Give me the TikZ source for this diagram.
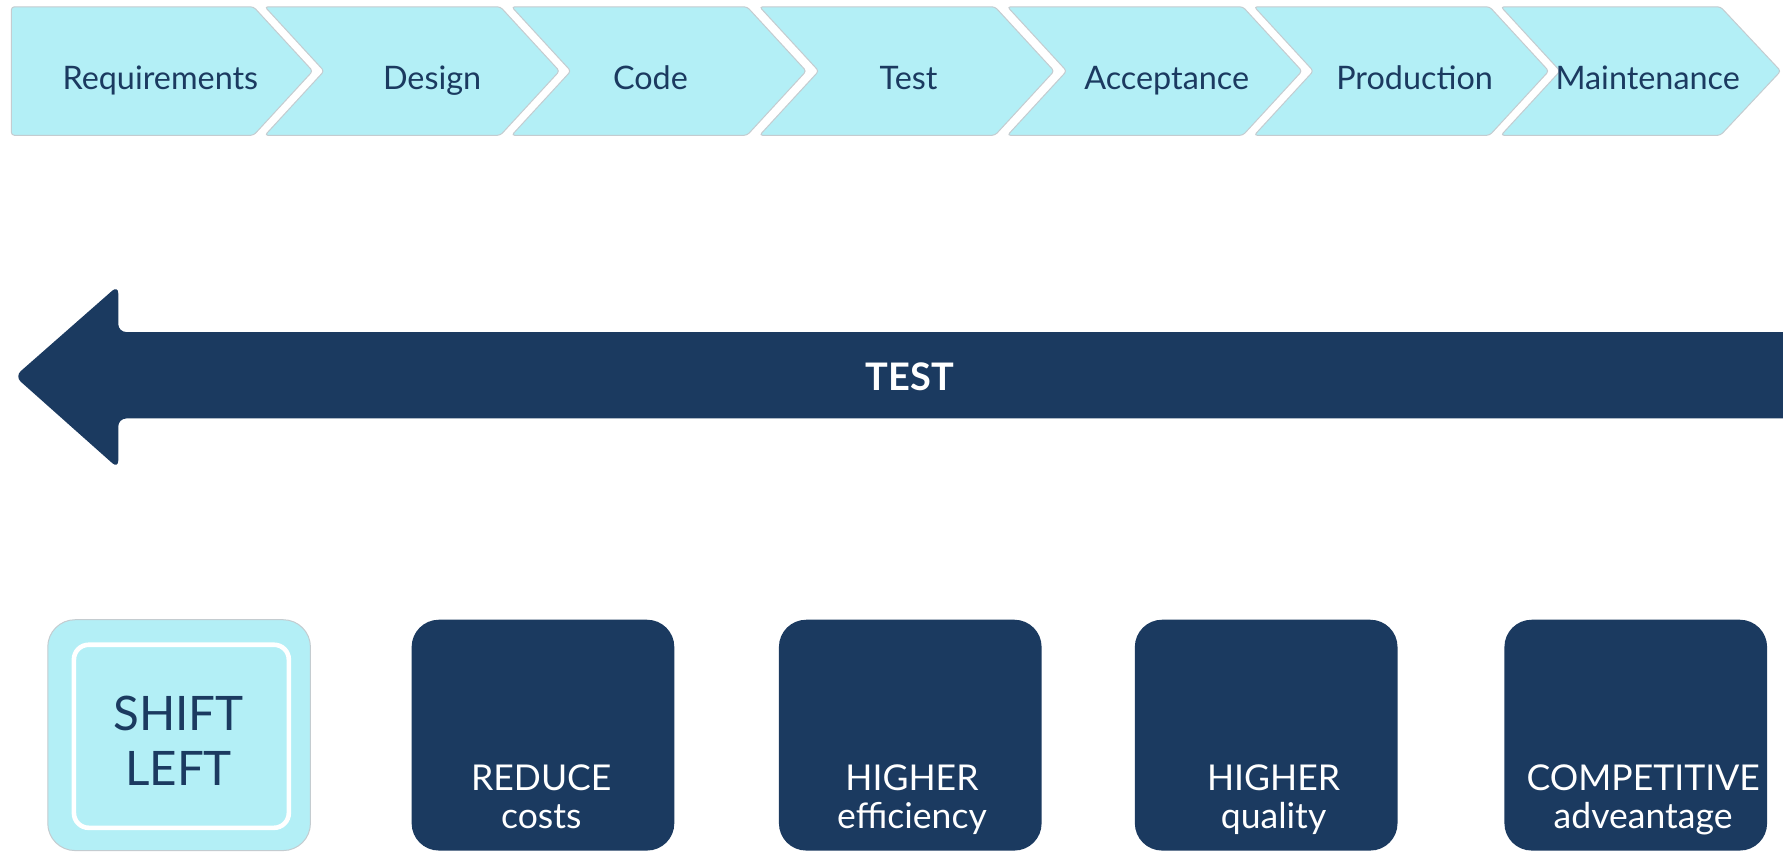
\documentclass[tikz,border=0pt]{standalone}
\usepackage{fontspec}
\setmainfont{Lato}
\definecolor{navy}{RGB}{27,58,96}
\definecolor{cyanl}{RGB}{179,239,246}
\definecolor{edgegray}{RGB}{196,204,208}
\begin{document}
\begin{tikzpicture}[x=0.02cm,y=-0.02cm,
  chev/.style={fill=cyanl,draw=edgegray,line width=0.5pt,rounded corners=1.5pt},
  chevtext/.style={anchor=base,text=navy,inner sep=0pt,font=\fontsize{16.2}{20}\selectfont},
  boxhead/.style={anchor=base,text=white,inner sep=0pt,font=\fontsize{17.8}{22}\selectfont},
  boxsub/.style={anchor=base,text=white,inner sep=0pt,font=\fontsize{17.8}{22}\selectfont},
  shifttext/.style={anchor=base,text=navy,inner sep=0pt,font=\fontsize{23.8}{30}\selectfont}]
\useasboundingbox (0,0) rectangle (1568,749);
\fill[white] (0,0) rectangle (1568,749);
% chevrons
\path[chev] (10,6) -- (223,6) -- (275,62.5) -- (223,119) -- (10,119) -- cycle;
\node[chevtext] (c1) at (141,79) {Requirements};
\foreach \s/\x/\lab/\nm in {233/380/Design/c2, 450/572/Code/c3, 668/799/Test/c4, 886/1026/Acceptance/c5, 1103/1244/Production/c6}{
  \path[chev] (\s,6) -- (\s+207,6) -- (\s+259,62.5) -- (\s+207,119) -- (\s,119) -- (\s+52,62.5) -- cycle;
  \node[chevtext] (\nm) at (\x,79) {\lab};
}
\path[chev] (1320,6) -- (1513,6) -- (1566,62.5) -- (1513,119) -- (1320,119) -- (1372,62.5) -- cycle;
\node[chevtext] (c7) at (1449,79) {Maintenance};
% big arrow
\path[fill=navy,rounded corners=4pt] (13,331) -- (104,251) -- (104,292) -- (1600,292) -- (1600,368) -- (104,368) -- (104,412) -- cycle;
\node[anchor=base,text=white,inner sep=0pt,font=\bfseries\fontsize{19}{24}\selectfont] (test) at (800,343) {TEST};
% shift left box
\path[fill=cyanl,draw=edgegray,line width=0.5pt,rounded corners=0.48cm] (42,545) rectangle (273,748);
\draw[white,line width=2.3pt,rounded corners=0.26cm] (65,567) rectangle (254,728);
\node[shifttext] (shift) at (157,642) {SHIFT};
\node[shifttext] (left) at (157,691) {LEFT};
% dark boxes
\foreach \a/\cx/\headtxt/\subtxt/\nm in {362/476/REDUCE/costs/b2, 685/802/HIGHER/efficiency/b3, 998/1120/HIGHER/quality/b4, 1323/1445/COMPETITIVE/adveantage/b5}{
  \path[fill=navy,rounded corners=0.48cm] (\a,545) rectangle (\a+231,748);
  \node[boxhead] (\nm a) at (\cx,695) {\headtxt};
  \node[boxsub] (\nm b) at (\cx,729) {\subtxt};
}
\end{tikzpicture}
\end{document}
